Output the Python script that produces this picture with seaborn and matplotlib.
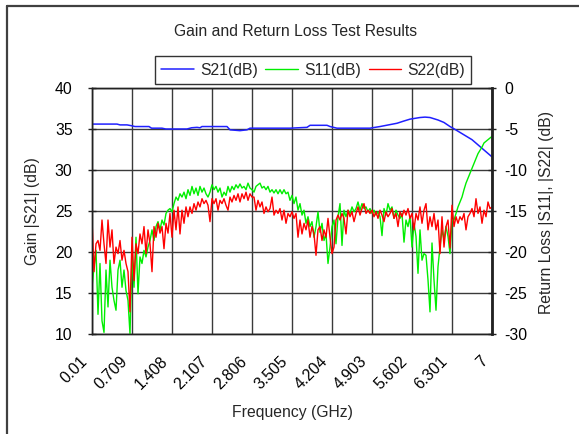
import numpy as np
import pandas as pd
import matplotlib
matplotlib.use("Agg")
import matplotlib.pyplot as plt
import matplotlib.transforms as mtransforms
import seaborn as sns
from matplotlib.lines import Line2D

# --- Axis categories ---
FREQ_TICKS = [0.01, 0.709, 1.408, 2.107, 2.806, 3.505, 4.204, 4.903, 5.602, 6.301, 7.0]
FREQ_LABELS = ["0.01", "0.709", "1.408", "2.107", "2.806", "3.505",
               "4.204", "4.903", "5.602", "6.301", "7"]
GAIN_TICKS = [10, 15, 20, 25, 30, 35, 40]
RL_TICKS = [-30, -25, -20, -15, -10, -5, 0]

# --- S21 gain (left axis), smooth curve ---
S21_FREQ = [0.01, 0.447, 0.50, 0.622, 0.70, 0.761, 1.006, 1.05, 1.233, 1.30, 1.670,
            1.75, 1.845, 1.897, 1.932, 2.369, 2.422, 2.596, 2.719, 2.771, 3.47, 3.767,
            3.82, 4.117, 4.17, 4.291, 4.868, 5.043, 5.34, 5.45, 5.567, 5.742, 5.83,
            5.917, 6.056, 6.16, 6.266, 6.318, 6.65, 7.0]
S21_DB = [35.6, 35.6, 35.5, 35.5, 35.4, 35.3, 35.3, 35.1, 35.1, 35.0, 35.0,
          35.15, 35.2, 35.15, 35.3, 35.3, 34.9, 34.8, 34.9, 35.1, 35.1, 35.2,
          35.45, 35.45, 35.3, 35.1, 35.1, 35.3, 35.7, 35.95, 36.2, 36.4, 36.45,
          36.4, 36.1, 35.8, 35.3, 35.1, 33.7, 31.6]

# --- S11 / S22 return loss (right axis), 201 points 0.01..7 GHz ---
FREQ = np.linspace(0.01, 7.0, 201)
S11_DB = [
    -24.3, -21.8, -19.8, -27.6, -21.4, -28.4, -29.8, -22.2, -26.7, -21.0, -24.3,
    -25.9, -27.1, -22.2, -21.0, -24.3, -22.2, -24.7, -25.9, -30.0, -20.6, -24.3,
    -18.2, -25.1, -20.6, -21.4, -19.8, -20.6, -19.4, -18.6, -17.3, -18.6, -16.9,
    -16.3, -17.3, -16.1, -16.7, -15.3, -14.9, -14.7, -15.1,
    -14.1, -13.3, -13.7, -12.9, -13.3, -12.7, -13.5, -12.4, -13.1, -12.0, -12.9,
    -12.2, -13.1, -12.0, -12.7, -12.2, -12.9, -13.3, -12.7, -11.8, -12.4, -12.0,
    -12.7, -12.2, -13.3, -12.7, -13.1, -12.0, -12.7, -12.0, -12.4, -11.8, -12.2,
    -11.7, -12.2, -12.0, -12.4, -11.6, -12.2, -12.4,
    -12.7, -12.0, -11.8, -11.6, -12.2, -12.0, -12.4, -12.0, -12.7, -12.4, -12.8,
    -12.4, -12.9, -12.4, -12.9, -12.4, -12.9, -12.7, -13.7, -13.1, -14.1, -13.3,
    -14.9, -14.1, -15.5, -14.9, -16.5, -15.7, -16.9, -16.3, -18.2, -16.9, -15.1,
    -17.6, -16.5, -18.6, -17.8, -21.4, -19.4, -16.9,
    -16.1, -19.0, -15.7, -14.1, -19.2, -14.9, -15.7, -14.9, -15.3, -14.5, -15.1,
    -14.7, -13.9, -14.9, -14.1, -14.7, -14.5, -15.1, -14.7, -15.3, -14.9, -15.5,
    -15.1, -15.7, -18.0, -14.7, -15.5, -14.1, -14.9, -14.5, -15.9, -14.9, -15.5,
    -15.9, -15.3, -18.8, -16.1, -16.9, -15.7, -19.4,
    -16.5, -18.1, -22.6, -17.3, -21.0, -20.2, -20.4, -23.4, -27.3, -18.9, -23.4,
    -27.1, -21.8, -19.4, -17.3, -18.5, -16.9, -18.1, -20.2, -16.1, -16.1, -15.3,
    -14.5, -13.9, -13.3, -12.4, -11.6, -11.0, -10.4, -9.8, -9.2, -8.6, -8.0,
    -7.6, -7.2, -6.7, -6.5, -6.3, -6.1, -5.9,
]
S22_DB = [
    -16.0, -22.4, -19.0, -18.6, -19.8, -16.1, -19.0, -21.4, -16.1, -19.4, -17.3,
    -21.4, -19.4, -20.2, -18.6, -21.0, -19.8, -21.4, -22.4, -27.3, -18.2, -23.5,
    -19.0, -20.2, -17.8, -19.0, -16.9, -20.2, -17.3, -19.0, -22.4, -16.9, -18.2,
    -16.5, -17.7, -16.9, -19.6, -16.5, -17.7, -15.3, -18.2,
    -14.9, -17.3, -14.5, -17.8, -14.9, -16.5, -14.5, -15.7, -14.5, -15.3, -14.1,
    -14.9, -13.9, -14.5, -13.5, -14.1, -13.7, -14.3, -16.3, -13.5, -14.1, -13.5,
    -14.9, -13.7, -14.1, -13.5, -14.3, -14.9, -13.3, -13.9, -13.1, -13.7, -12.9,
    -13.9, -12.9, -13.5, -12.7, -13.7, -12.9, -13.3,
    -13.3, -14.9, -13.7, -14.5, -13.9, -15.3, -14.5, -15.1, -14.7, -13.3, -15.5,
    -14.9, -15.3, -14.7, -16.1, -14.9, -16.5, -15.3, -15.7, -15.1, -15.9, -15.3,
    -18.2, -16.1, -17.8, -16.5, -17.3, -16.1, -18.2, -16.9, -17.8, -20.4, -17.3,
    -16.9, -18.6, -17.3, -18.2, -15.9, -18.2, -20.2,
    -19.4, -16.1, -15.5, -16.1, -15.3, -15.9, -17.8, -14.9, -15.7, -15.1, -16.3,
    -15.3, -14.5, -15.5, -14.7, -14.1, -15.3, -14.9, -15.3, -14.9, -15.7, -15.1,
    -15.9, -14.9, -15.5, -16.3, -15.1, -15.7, -15.3, -14.7, -15.9, -15.3, -16.9,
    -15.1, -15.7, -14.9, -15.5, -14.7, -15.9, -15.3,
    -17.3, -15.3, -16.1, -14.5, -16.5, -14.9, -14.1, -17.3, -15.7, -16.9, -15.3,
    -17.3, -16.1, -20.2, -15.7, -19.4, -16.9, -16.1, -19.5, -14.3, -16.9, -15.7,
    -16.5, -15.7, -16.1, -15.3, -17.3, -15.7, -15.3, -14.7, -15.7, -13.5, -15.3,
    -14.5, -16.5, -14.9, -15.7, -13.9, -14.7, -14.5,
]

rl = pd.DataFrame({"freq": FREQ, "S11(dB)": S11_DB, "S22(dB)": S22_DB})

# --- Style ---
sns.set_style("white")
plt.rcParams["font.family"] = ["Liberation Sans", "DejaVu Sans"]
plt.rcParams["axes.unicode_minus"] = False
FS = 11.3

W, H = 579, 434
fig = plt.figure(figsize=(W / 100, H / 100), dpi=100)
ax = fig.add_axes([92 / W, 1 - 334 / H, 400 / W, 246 / H])
ax2 = ax.twinx()

grid_c = "#3a3a3a"
for v in FREQ_TICKS:
    ax.axvline(v, color=grid_c, lw=1.0, zorder=0)
for v in GAIN_TICKS:
    ax.axhline(v, color=grid_c, lw=1.0, zorder=0)

sns.lineplot(x=S21_FREQ, y=S21_DB, ax=ax, color="#2020ff", lw=1.1, label="S21(dB)")
sns.lineplot(data=rl, x="freq", y="S11(dB)", ax=ax2, color="#00ee00", lw=1.0, label="S11(dB)")
sns.lineplot(data=rl, x="freq", y="S22(dB)", ax=ax2, color="#ff0000", lw=1.0, label="S22(dB)")

ax.set_xlim(0.01, 7.0)
ax.set_ylim(10, 40)
ax2.set_ylim(-30, 0)
ax.set_xticks(FREQ_TICKS)
ax.set_xticklabels(FREQ_LABELS, rotation=45, ha="right", va="center", rotation_mode="anchor")
ax.set_yticks(GAIN_TICKS)
ax2.set_yticks(RL_TICKS)
ax.set_xlabel("")
ax.set_ylabel("")
ax2.set_ylabel("")

for a in (ax, ax2):
    for s in a.spines.values():
        s.set_color("#222222")
        s.set_linewidth(1.0)
ax2.spines["right"].set_linewidth(2.0)
ax.tick_params(axis="both", direction="inout", length=6, width=1, colors="#222222",
               labelsize=FS, labelcolor="black")
ax.tick_params(axis="y", pad=11)
ax.tick_params(axis="x", pad=15)
ax2.tick_params(axis="y", direction="inout", length=6, width=1, colors="#222222",
                labelsize=FS, labelcolor="black", pad=6)

# nudge rotated frequency labels to the left
shift = mtransforms.ScaledTranslation(-7 / 100, 0, fig.dpi_scale_trans)
for lbl in ax.get_xticklabels():
    lbl.set_transform(lbl.get_transform() + shift)

# gather handles for single figure legend
h1, l1 = ax.get_legend_handles_labels()
h2, l2 = ax2.get_legend_handles_labels()
ax.get_legend().remove()
ax2.get_legend().remove()
leg = fig.legend(h1 + h2, l1 + l2, ncol=3, loc="center", bbox_to_anchor=(313 / W, 1 - 70 / H),
                 frameon=True, fancybox=False, edgecolor="black", handlelength=2.1,
                 handletextpad=0.35, columnspacing=0.5, borderpad=0.4, fontsize=FS)
leg.get_frame().set_linewidth(1.0)

# text labels
fig.text(295.5 / W, 1 - 32 / H, "Gain and Return Loss Test Results", ha="center", va="center", fontsize=FS)
fig.text(292 / W, 1 - 412 / H, "Frequency (GHz)", ha="center", va="center", fontsize=FS)
fig.text(33 / W, 1 - 211 / H, "Gain |S21| (dB)", ha="center", va="center", rotation=90, fontsize=FS)
fig.text(546 / W, 1 - 212 / H, "Return Loss |S11|, |S22| (dB)", ha="center", va="center",
         rotation=90, fontsize=FS)

# outer chart frame (cut off at right/bottom)
fig.add_artist(Line2D([6.5 / W, 6.5 / W], [0, 1 - 6 / H], transform=fig.transFigure,
                      color="#404040", lw=1.6))
fig.add_artist(Line2D([6.5 / W, 1], [1 - 6 / H, 1 - 6 / H], transform=fig.transFigure,
                      color="#404040", lw=1.6))

fig.savefig("out.png", dpi=100)
